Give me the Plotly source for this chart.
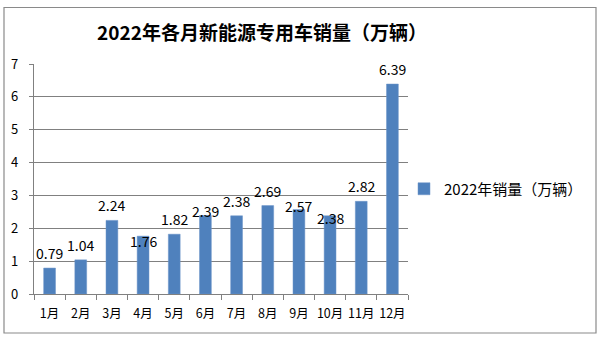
import plotly.graph_objects as go

months = ["1月", "2月", "3月", "4月", "5月", "6月", "7月", "8月", "9月", "10月", "11月", "12月"]
sales = [0.79, 1.04, 2.24, 1.76, 1.82, 2.39, 2.38, 2.69, 2.57, 2.38, 2.82, 6.39]
series_name = "2022年销量（万辆）"
title_text = "2022年各月新能源专用车销量（万辆）"
y_ticks = [0, 1, 2, 3, 4, 5, 6, 7]

# label vertical offsets (px) to mimic the original label placement
label_shift = [15, 15, 15, -5, 15, 4, 15, 15, 4, -2, 15, 15]

W, H = 600, 342
ML, MR, MT, MB = 34, 192, 64, 48
PW, PH = W - ML - MR, H - MT - MB

def px_to_paper_x(px):
    return (px - ML) / PW

def px_to_paper_y(py):
    return (H - MB - py) / PH

FONT = "Noto Sans CJK SC, Open Sans, sans-serif"

fig = go.Figure()
fig.add_trace(go.Bar(
    x=months, y=sales, name=series_name,
    marker=dict(color="#4F81BD", line=dict(color="#6C94C8", width=0.5)),
    showlegend=True,
))

for m, v, s in zip(months, sales, label_shift):
    fig.add_annotation(x=m, y=v, text=f"{v:.2f}", showarrow=False,
                       yshift=s, xref="x", yref="y",
                       font=dict(size=14, color="#000000", family=FONT))

fig.add_shape(type="rect", xref="paper", yref="paper",
              x0=px_to_paper_x(4), x1=px_to_paper_x(596),
              y0=px_to_paper_y(333), y1=px_to_paper_y(7.5),
              line=dict(color="#8A8A8A", width=1.2), fillcolor="rgba(0,0,0,0)",
              layer="below")

fig.update_layout(
    width=W, height=H,
    margin=dict(l=ML, r=MR, t=MT, b=MB),
    paper_bgcolor="white", plot_bgcolor="white",
    bargap=0.62,
    title=dict(text=f"<b>{title_text}</b>", x=262 / W, xanchor="center",
               y=1 - 33 / H, yanchor="middle", xref="container", yref="container",
               font=dict(size=19, color="#000000", family=FONT)),
    font=dict(family=FONT, color="#000000"),
    legend=dict(x=px_to_paper_x(404), y=px_to_paper_y(189), xanchor="left",
                yanchor="middle", font=dict(size=15, color="#000000", family=FONT),
                bgcolor="rgba(0,0,0,0)"),
    xaxis=dict(type="category", showline=True, linecolor="#808080", linewidth=1.3,
               ticks="outside", tickson="boundaries", ticklen=5, tickcolor="#808080",
               tickangle=0, ticklabelstandoff=8,
               tickfont=dict(size=12.5, family=FONT, color="#000000"),
               showgrid=False, fixedrange=True),
    yaxis=dict(range=[0, 7], tickvals=y_ticks, showline=True, linecolor="#808080",
               linewidth=1.3, ticks="outside", ticklen=4, tickcolor="#808080",
               showgrid=True, gridcolor="#808080", gridwidth=1.3, zeroline=False,
               tickfont=dict(size=13, family=FONT, color="#000000"), ticklabelstandoff=8),
)

fig.write_html("out.html")
